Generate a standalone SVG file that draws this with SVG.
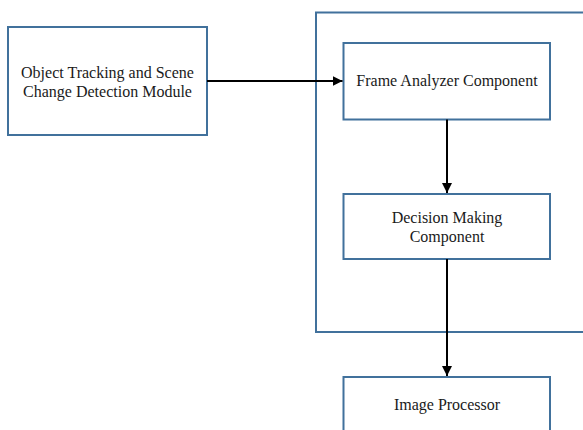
<svg xmlns="http://www.w3.org/2000/svg" width="583" height="430" viewBox="0 0 583 430">
  <style>
    .box { fill: #ffffff; stroke: #41719c; stroke-width: 2; }
    .frame { fill: none; stroke: #41719c; stroke-width: 2; }
    .label { font-family: "Liberation Serif", "Times New Roman", serif; font-size: 16px; fill: #1a1a1a; text-anchor: middle; }
    .wire { stroke: #000000; stroke-width: 2; fill: none; }
  </style>
  <defs>
    <marker id="arrow" viewBox="0 0 10 10" refX="10" refY="5" markerWidth="5" markerHeight="5" orient="auto" markerUnits="strokeWidth">
      <path d="M0,0 L10,5 L0,10 z" fill="#000000"/>
    </marker>
  </defs>
  <rect width="583" height="430" fill="#ffffff"/>

  <g id="container">
    <rect class="frame" x="316" y="12.5" width="280" height="319.5"/>
  </g>

  <g id="tracking-module">
    <rect class="box" x="8" y="27" width="199" height="108"/>
    <text class="label" x="107.5" y="78">Object Tracking and Scene</text>
    <text class="label" x="107.5" y="96.5">Change Detection Module</text>
  </g>

  <g id="frame-analyzer">
    <rect class="box" x="343.5" y="43" width="206.5" height="76.5"/>
    <text class="label" x="447" y="85.5">Frame Analyzer Component</text>
  </g>

  <g id="decision-making">
    <rect class="box" x="343.5" y="194" width="206.5" height="65"/>
    <text class="label" x="447" y="223">Decision Making</text>
    <text class="label" x="447" y="242">Component</text>
  </g>

  <g id="image-processor">
    <rect class="box" x="343.5" y="377" width="206.5" height="70"/>
    <text class="label" x="447" y="410">Image Processor</text>
  </g>

  <g id="connectors">
    <line class="wire" x1="207" y1="81" x2="342.5" y2="81" marker-end="url(#arrow)"/>
    <line class="wire" x1="447" y1="119.5" x2="447" y2="193" marker-end="url(#arrow)"/>
    <line class="wire" x1="447" y1="259" x2="447" y2="376" marker-end="url(#arrow)"/>
  </g>
</svg>
